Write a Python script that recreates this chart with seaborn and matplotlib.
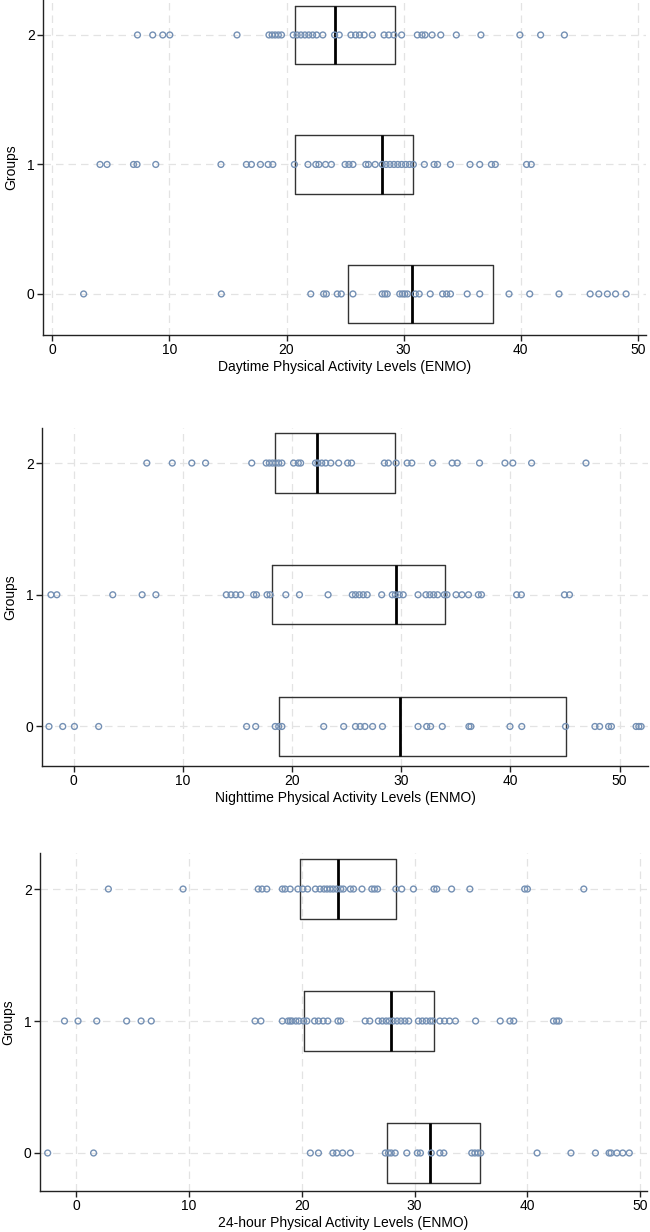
import numpy as np
import pandas as pd
import matplotlib
matplotlib.use("Agg")
import matplotlib.pyplot as plt
import seaborn as sns

# ---------------- data ----------------
groups = ["2", "1", "0"]  # top to bottom

day_g2 = [7.27, 8.57, 9.43, 10.03, 15.77, 18.5, 18.77, 19.03, 19.3, 19.57, 20.57, 20.9,
          21.23, 21.57, 21.9, 22.23, 22.57, 23.1, 24.1, 24.5, 25.5, 25.9, 26.23, 26.63,
          27.33, 28.33, 28.73, 29.17, 29.83, 31.17, 31.57, 31.83, 32.43, 33.17, 34.5,
          36.6, 39.93, 41.7, 43.73]
day_g1 = [4.07, 4.67, 6.93, 7.23, 8.83, 14.4, 16.57, 17.0, 17.77, 18.43, 18.83, 20.67,
          21.83, 22.5, 22.77, 23.33, 23.83, 25.0, 25.33, 25.67, 26.77, 27.0, 27.57, 28.17,
          28.5, 28.83, 29.17, 29.5, 29.83, 30.17, 30.5, 30.83, 31.77, 32.6, 32.9, 34.0,
          35.67, 36.5, 37.5, 37.83, 40.5, 40.9]
day_g0 = [2.67, 14.43, 22.07, 23.17, 23.4, 24.33, 24.67, 25.67, 28.17, 28.4, 28.6, 29.67,
          29.9, 30.1, 30.33, 31.0, 31.33, 32.27, 33.33, 33.67, 34.0, 35.43, 36.5, 39.0,
          40.77, 43.27, 45.93, 46.67, 47.4, 48.1, 49.0]

night_g2 = [6.70, 9.03, 10.82, 12.08, 16.31, 17.63, 17.92, 18.21, 18.49, 18.78, 19.07,
            20.14, 20.57, 20.79, 22.15, 22.37, 22.72, 23.08, 23.55, 24.27, 25.09, 25.45,
            28.46, 28.82, 29.53, 30.54, 30.97, 32.87, 34.66, 35.13, 37.17, 39.5, 40.22,
            41.94, 46.92]
night_g1 = [-2.08, -1.54, 3.58, 6.27, 7.53, 13.98, 14.41, 14.84, 15.30, 16.49, 16.74,
            17.71, 17.99, 19.43, 20.68, 23.30, 25.52, 25.81, 26.16, 26.52, 26.88, 28.21,
            29.18, 29.46, 29.82, 30.18, 31.54, 32.26, 32.62, 32.97, 33.33, 33.94, 34.19,
            35.02, 35.56, 36.16, 37.06, 37.35, 40.57, 41.0, 44.95, 45.41]
night_g0 = [-2.26, -1.0, 0.07, 2.29, 15.84, 16.67, 18.46, 18.78, 19.07, 22.90, 24.73,
            25.81, 26.24, 26.67, 27.38, 28.28, 31.54, 32.33, 32.69, 33.76, 36.20, 36.38,
            39.96, 41.04, 45.05, 47.74, 48.17, 48.99, 49.25, 51.51, 51.76, 51.97]

h24_g2 = [2.86, 9.48, 16.14, 16.48, 16.90, 18.28, 18.52, 18.97, 19.66, 20.10, 20.52,
          21.21, 21.62, 21.97, 22.24, 22.52, 22.79, 23.10, 23.45, 23.69, 24.31, 24.59,
          25.34, 26.21, 26.45, 26.72, 28.34, 28.86, 29.90, 31.72, 31.97, 33.28, 34.90,
          39.76, 40.0, 45.0]
h24_g1 = [-1.03, 0.17, 1.83, 4.48, 5.76, 6.66, 15.86, 16.38, 18.28, 18.79, 18.97, 19.14,
          19.48, 19.76, 20.17, 20.45, 21.14, 21.48, 21.90, 22.31, 23.21, 23.45, 25.62,
          26.03, 26.79, 27.14, 27.48, 27.76, 28.10, 28.45, 28.79, 29.14, 29.48, 30.34,
          30.69, 31.03, 31.38, 31.62, 32.24, 32.66, 33.10, 33.62, 35.41, 37.59, 38.45,
          38.79, 42.31, 42.59, 42.8]
h24_g0 = [-2.52, 1.55, 20.76, 21.48, 22.76, 23.10, 23.62, 24.31, 27.41, 27.69, 27.93,
          28.28, 29.31, 30.24, 30.52, 31.48, 32.24, 32.59, 35.07, 35.34, 35.62, 35.86,
          40.86, 43.86, 46.03, 47.24, 47.41, 47.93, 48.45, 49.03]

# box statistics (q1, median, q3) per group, order: 2, 1, 0
day_q1 = [20.73, 20.73, 25.27]
day_med = [24.17, 28.17, 30.73]
day_q3 = [29.23, 30.77, 37.67]

night_q1 = [18.46, 18.14, 18.82]
night_med = [22.29, 29.53, 29.89]
night_q3 = [29.46, 34.05, 45.05]

h24_q1 = [19.83, 20.17, 27.52]
h24_med = [23.21, 27.93, 31.38]
h24_q3 = [28.34, 31.72, 35.79]

x_ticks = [0, 10, 20, 30, 40, 50]
x_labels = ["Daytime Physical Activity Levels (ENMO)",
            "Nighttime Physical Activity Levels (ENMO)",
            "24-hour Physical Activity Levels (ENMO)"]
y_label = "Groups"

# ---------------- style ----------------
sns.set_theme(style="white")
plt.rcParams["font.family"] = ["Liberation Sans", "DejaVu Sans"]

POINT_COLOR = "#7490b4"
BOX_COLOR = "#333333"
GRID_COLOR = "#e3e3e3"
AXIS_COLOR = "#222222"

fig = plt.figure(figsize=(6.5, 12.32), dpi=100)
W, H = 650, 1232


def add_ax(left, top, right, bottom):
    return fig.add_axes([left / W, 1 - bottom / H, (right - left) / W, (bottom - top) / H])


panels = [
    dict(pts=[day_g2, day_g1, day_g0], q1=day_q1, med=day_med, q3=day_q3,
         xlim=(-0.8, 50.7), box=(43, 0, 646, 335), ylim=(2.317, -0.27),
         label=x_labels[0]),
    dict(pts=[night_g2, night_g1, night_g0], q1=night_q1, med=night_med, q3=night_q3,
         xlim=(-2.9, 52.6), box=(42, 428, 648, 766), ylim=(2.30, -0.266),
         label=x_labels[1]),
    dict(pts=[h24_g2, h24_g1, h24_g0], q1=h24_q1, med=h24_med, q3=h24_q3,
         xlim=(-3.2, 50.6), box=(40, 853, 647, 1191), ylim=(2.288, -0.273),
         label=x_labels[2]),
]

for p in panels:
    ax = add_ax(*p["box"])
    pts_df = pd.DataFrame({
        "value": np.concatenate([np.asarray(v, float) for v in p["pts"]]),
        "group": np.concatenate([[g] * len(v) for g, v in zip(groups, p["pts"])]),
    })
    box_rows = []
    for g, a, m, b in zip(groups, p["q1"], p["med"], p["q3"]):
        for v in (a, a, m, b, b):
            box_rows.append((v, g))
    box_df = pd.DataFrame(box_rows, columns=["value", "group"])

    sns.boxplot(data=box_df, x="value", y="group", order=groups, orient="h",
                whis=0, showcaps=False, showfliers=False, fill=False, width=0.45,
                color=BOX_COLOR, linecolor=BOX_COLOR, linewidth=1.0,
                medianprops=dict(color="black", linewidth=2.0),
                ax=ax)
    n_before = len(ax.collections)
    sns.stripplot(data=pts_df, x="value", y="group", order=groups, orient="h",
                  jitter=False, size=4.2, color=POINT_COLOR, facecolor="none",
                  edgecolor=POINT_COLOR, linewidth=1.0, ax=ax, zorder=4)
    for coll in ax.collections[n_before:]:
        coll.set_facecolor("none")
        coll.set_edgecolor(POINT_COLOR)

    ax.set_xlim(*p["xlim"])
    ax.set_ylim(*p["ylim"])
    ax.set_xticks(x_ticks)
    ax.set_xticklabels([str(t) for t in x_ticks])
    ax.set_yticks([0, 1, 2])
    ax.set_yticklabels(groups)

    ax.grid(True, axis="both", color=GRID_COLOR, linestyle=(0, (6, 4)), linewidth=0.9)
    ax.set_axisbelow(True)
    for s in ["top", "right"]:
        ax.spines[s].set_visible(False)
    for s in ["left", "bottom"]:
        ax.spines[s].set_color(AXIS_COLOR)
        ax.spines[s].set_linewidth(1.0)
    ax.tick_params(axis="both", which="major", direction="out", length=4, width=1,
                   color=AXIS_COLOR, labelsize=10, labelcolor="black", pad=2,
                   bottom=True, left=True)
    ax.set_xlabel(p["label"], fontsize=10, color="black", labelpad=2)
    ax.set_ylabel(y_label, fontsize=10, color="black", labelpad=6)

fig.savefig("out.png", dpi=100)
